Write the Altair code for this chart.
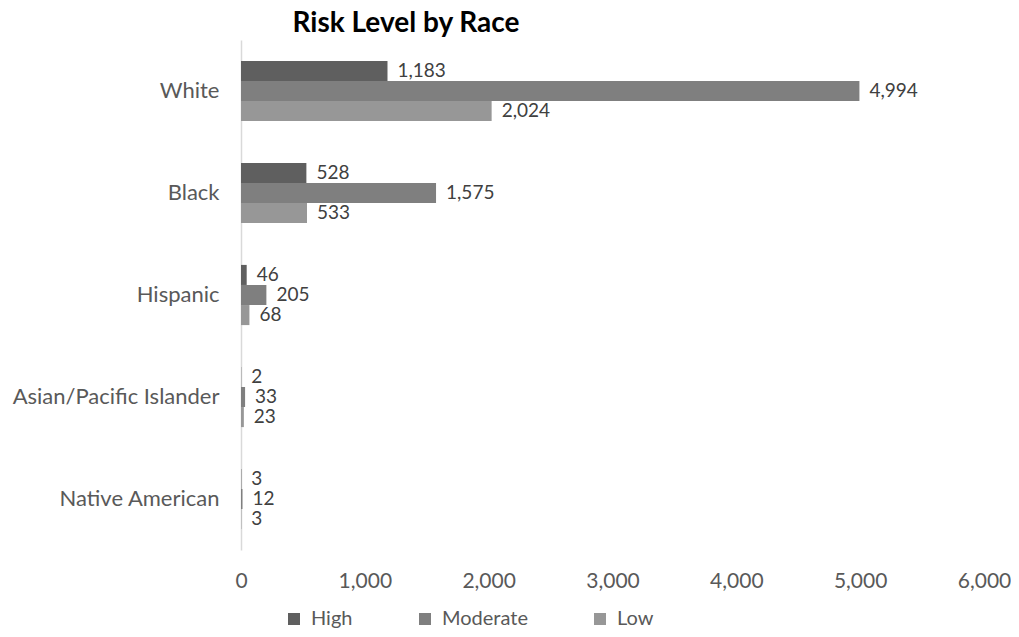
import altair as alt
import pandas as pd

title_text = ["Risk Level by Race"]
races = ["White", "Black", "Hispanic", "Asian/Pacific Islander", "Native American"]
levels = ["High", "Moderate", "Low"]
high = [1183, 528, 46, 2, 3]
moderate = [4994, 1575, 205, 33, 12]
low = [2024, 533, 68, 23, 3]
colors = ["#5f5f5f", "#7f7f7f", "#979797"]
x_ticks = [0, 1000, 2000, 3000, 4000, 5000, 6000]

rows = []
for i, r in enumerate(races):
    for lvl, vals in zip(levels, [high, moderate, low]):
        rows.append({"race": r, "level": lvl, "value": vals[i]})
df = pd.DataFrame(rows)

FONT = "Lato"
FS = 22

x_enc = alt.X("value:Q", title=None,
              scale=alt.Scale(domain=[0, 6000], nice=False),
              axis=alt.Axis(values=x_ticks, format=",", labelExpr="format(datum.value, ',')",
                            grid=False, domain=False, ticks=False, labelFontSize=21,
                            labelFlush=False, labelOverlap=False, labelBound=False,
                            labelColor="#595959", labelPadding=20, labelFont=FONT))
y_enc = alt.Y("race:N", sort=races, title=None,
              scale=alt.Scale(paddingInner=0.41, paddingOuter=0.205),
              axis=alt.Axis(ticks=False, domainColor="#d9d9d9", domainWidth=1.5,
                            labelFontSize=FS, labelColor="#595959", labelPadding=22,
                            labelLimit=400, labelFont=FONT))
yoff = alt.YOffset("level:N", sort=levels)

base = alt.Chart(df)
bars = base.mark_bar().encode(
    x=x_enc,
    y=y_enc,
    yOffset=yoff,
    color=alt.Color("level:N", sort=levels,
                    scale=alt.Scale(domain=levels, range=colors),
                    legend=alt.Legend(title=None, orient="none", direction="horizontal",
                                      legendX=43, legendY=569, symbolType="square",
                                      symbolSize=144, symbolStrokeWidth=0,
                                      labelFontSize=20, labelColor="#595959",
                                      labelFont=FONT, columnPadding=62, labelOffset=7)),
)
labels = base.mark_text(align="left", dx=10, fontSize=19, color="#404040", font=FONT).encode(
    x=x_enc,
    y=y_enc,
    yOffset=yoff,
    text=alt.Text("value:Q", format=","),
)
title = alt.Chart(pd.DataFrame({"t": title_text})).mark_text(
    align="center", baseline="alphabetic", fontSize=28, fontWeight="bold",
    color="#000000", font=FONT
).encode(text="t:N", x=alt.value(165), y=alt.value(-8))

chart = (bars + labels + title).properties(
    width=743, height=510,
    autosize=alt.AutoSizeParams(type="none"),
    padding={"left": 233, "top": 32, "right": 27, "bottom": 79},
).configure_view(stroke=None)

chart.save("out.html", embed_options={"renderer": "svg", "actions": False})
